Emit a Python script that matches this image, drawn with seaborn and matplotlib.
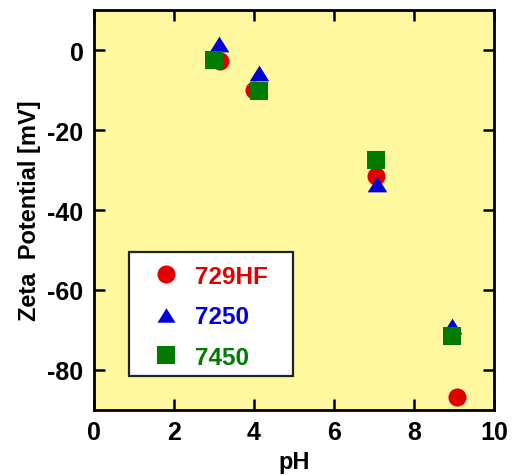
import matplotlib
matplotlib.use("Agg")
import matplotlib.pyplot as plt
import seaborn as sns
import pandas as pd
from matplotlib.path import Path
from matplotlib.lines import Line2D
from matplotlib.patches import Rectangle

# ---- data ----
ph_729hf = [3.15, 4.0, 7.06, 9.07]
zeta_729hf = [-2.8, -10.0, -31.5, -86.8]
ph_7250 = [3.12, 4.12, 7.07, 8.96]
zeta_7250 = [1.4, -5.8, -33.4, -69.0]
ph_7450 = [3.01, 4.13, 7.06, 8.96]
zeta_7450 = [-2.6, -10.3, -27.4, -71.6]
series_names = ["729HF", "7250", "7450"]
xticks = [0, 2, 4, 6, 8, 10]
yticks = [0, -20, -40, -60, -80]

sns.set_style("ticks")
plt.rcParams['font.family'] = ['Liberation Sans', 'DejaVu Sans']
plt.rcParams['font.weight'] = 'bold'
plt.rcParams['axes.unicode_minus'] = False
plt.rcParams['text.color'] = 'black'
plt.rcParams['axes.labelcolor'] = 'black'
plt.rcParams['xtick.color'] = 'black'
plt.rcParams['ytick.color'] = 'black'

colors = {"729HF": "#e00000", "7250": "#0000d8", "7450": "#007a00"}
tri = Path([(-1, -0.8), (1, -0.8), (0, 0.8), (-1, -0.8)],
           [Path.MOVETO, Path.LINETO, Path.LINETO, Path.CLOSEPOLY])
markers = {"729HF": "o", "7250": tri, "7450": "s"}
sizes = {"729HF": 170, "7250": 200, "7450": 185}

df = pd.concat([
    pd.DataFrame({"pH": ph_729hf, "zeta": zeta_729hf, "sample": "729HF"}),
    pd.DataFrame({"pH": ph_7250, "zeta": zeta_7250, "sample": "7250"}),
    pd.DataFrame({"pH": ph_7450, "zeta": zeta_7450, "sample": "7450"}),
], ignore_index=True)

fig = plt.figure(figsize=(5.17, 4.77), dpi=100)
ax = fig.add_axes([94/517, 66/477, 400/517, 400/477])
ax.set_facecolor("#fff89f")

for name in series_names:
    sub = df[df["sample"] == name]
    sns.scatterplot(data=sub, x="pH", y="zeta", ax=ax, color=colors[name],
                    marker=markers[name], s=sizes[name], linewidth=0, zorder=3)

ax.set_xlim(0, 10)
ax.set_ylim(-90, 10)
ax.set_xticks(xticks)
ax.set_yticks(yticks)
ax.set_xticklabels([str(v) for v in xticks])
ax.set_yticklabels([str(v) for v in yticks])
ax.tick_params(direction="in", length=8, width=1.8, top=True, right=True,
               labelsize=18, pad=7.5, colors="black")
for lab in ax.get_xticklabels() + ax.get_yticklabels():
    lab.set_fontweight("bold")
for sp in ax.spines.values():
    sp.set_linewidth(2)
    sp.set_color("black")

ax.set_xlabel("pH", fontsize=17, fontweight="bold", labelpad=4)
ax.set_ylabel("Zeta  Potential [mV]", fontsize=17, fontweight="bold", labelpad=5)

# legend frame
ax.add_patch(Rectangle((0.0875, 0.085), 0.41, 0.31, transform=ax.transAxes,
                       facecolor="white", edgecolor="#222222", linewidth=1.6,
                       zorder=4))
handles = [Line2D([], [], linestyle="none", marker=markers[n], color=colors[n],
                  markersize=13, markeredgewidth=0) for n in series_names]
leg = ax.legend(handles, series_names, loc="center left",
                bbox_to_anchor=(0.1185, 0.233), borderaxespad=0,
                prop={"size": 17.5, "weight": "bold"}, frameon=False,
                handlelength=2.0, handletextpad=0.2, labelspacing=0.72,
                borderpad=0)
leg.set_zorder(5)
for t, n in zip(leg.get_texts(), series_names):
    t.set_color(colors[n])

fig.savefig("out.png", dpi=100)
